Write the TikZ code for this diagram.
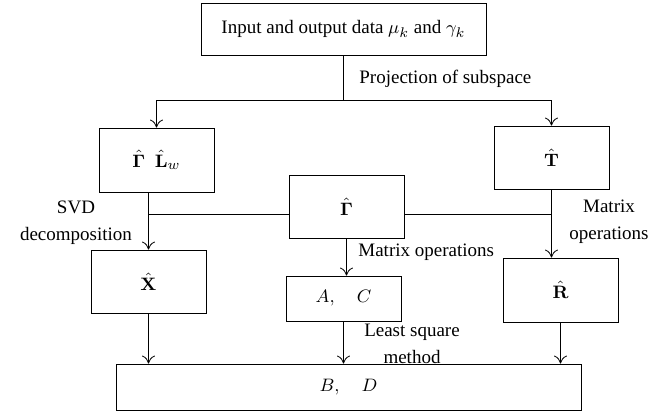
\documentclass[tikz,border=0pt]{standalone}
\usepackage[no-math]{fontspec}
\setmainfont{Liberation Serif}
\usetikzlibrary{arrows.meta}

\begin{document}
\begin{tikzpicture}[x=0.5pt, y=-0.5pt, font=\fontsize{9.5}{13.5}\selectfont,
    box/.style={draw, inner sep=0pt, minimum width=57.5pt, minimum height=31.5pt},
    flow/.style={-{To[length=4pt, width=6.5pt]}},
    note/.style={inner sep=0pt, align=center}]

    \useasboundingbox (0,0) rectangle (671,413);

    % cajas
    \node[box, minimum width=142.5pt, minimum height=26pt] (data) at (343.5,29)
        {Input and output data $\mu_k$ and $\gamma_k$};
    \node[box, minimum height=32pt] (gamlw) at (156.5,160) {$\hat{\mathbf{\Gamma}}\ \ \hat{\mathbf{L}}_w$};
    \node[box] (tmat) at (551.5,157.5) {$\hat{\mathbf{T}}$};
    \node[box] (gam) at (346.5,206.5) {$\hat{\mathbf{\Gamma}}$};
    \node[box] (xmat) at (148.5,281.5) {$\hat{\mathbf{X}}$};
    \node[box, minimum height=22.5pt] (ac) at (343.5,298.5) {$A,\quad C$};
    \node[box, minimum height=32pt] (rmat) at (560.5,290) {$\hat{\mathbf{R}}$};
    \node[box, minimum width=232.5pt, minimum height=23pt] (bd) at (348.5,387) {$B,\quad D$};

    % conexiones
    \coordinate (split) at (data.south |- 0,100);
    \draw (data.south) -- (split);
    \draw[flow] (split) -| (gamlw.north);
    \draw[flow] (split) -| (tmat.north);
    \draw[flow] (gamlw.south -| xmat.north) -- (xmat.north);
    \draw[flow] (tmat.south) -- (tmat.south |- rmat.north);
    \draw ([yshift=-3.75pt]gam.west) -- ([yshift=-3.75pt]gam.west -| xmat.north);
    \draw ([yshift=-3.75pt]gam.east) -- ([yshift=-3.75pt]gam.east -| tmat.south);
    \draw[flow] (gam.south) -- (gam.south |- ac.north);
    \draw[flow] (xmat.south) -- (xmat.south |- bd.north);
    \draw[flow] (ac.south) -- (ac.south |- bd.north);
    \draw[flow] (rmat.south) -- (rmat.south |- bd.north);

    % rotulos
    \node[note, anchor=base west] (proj) at (359,83) {Projection of subspace};
    \node[note] (svd) at (76,223) {SVD\\decomposition};
    \node[note] (matr) at (609,222) {Matrix\\operations};
    \node[note, anchor=base west] (matm) at (358,256) {Matrix operations};
    \node[note] (lsq) at (412,344) {Least square\\method};

\end{tikzpicture}
\end{document}
